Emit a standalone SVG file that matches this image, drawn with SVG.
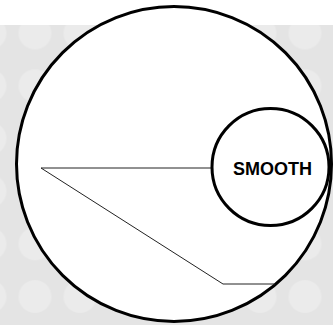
<svg xmlns="http://www.w3.org/2000/svg" width="333" height="325" viewBox="0 0 333 325">
  <defs>
    <pattern id="dots" patternUnits="userSpaceOnUse" x="-32.5" y="6.7" width="45" height="52.7">
      <rect width="45" height="52.7" fill="#e4e4e4"/>
      <circle cx="22.5" cy="26.35" r="16.5" fill="#ebebeb"/>
    </pattern>
    <style>
      .ring { fill: #ffffff; stroke: #000000; stroke-width: 3; }
      .conn { fill: none; stroke: #222222; stroke-width: 1; }
      .label { font-family: "Liberation Sans", Arial, sans-serif; font-weight: bold; font-size: 18px; fill: #000000; }
    </style>
  </defs>
  <rect x="0" y="0" width="333" height="325" fill="#ffffff"/>
  <rect x="0" y="25" width="333" height="300" fill="url(#dots)"/>
  <g id="outer">
    <circle class="ring" cx="174" cy="164" r="157.5"/>
  </g>
  <g id="connectors">
    <polyline class="conn" points="212,168 41,168 223,284 275,284"/>
  </g>
  <g id="smooth">
    <circle class="ring" cx="270.5" cy="167" r="58.5"/>
    <text class="label" x="272.5" y="175" text-anchor="middle">SMOOTH</text>
  </g>
</svg>
